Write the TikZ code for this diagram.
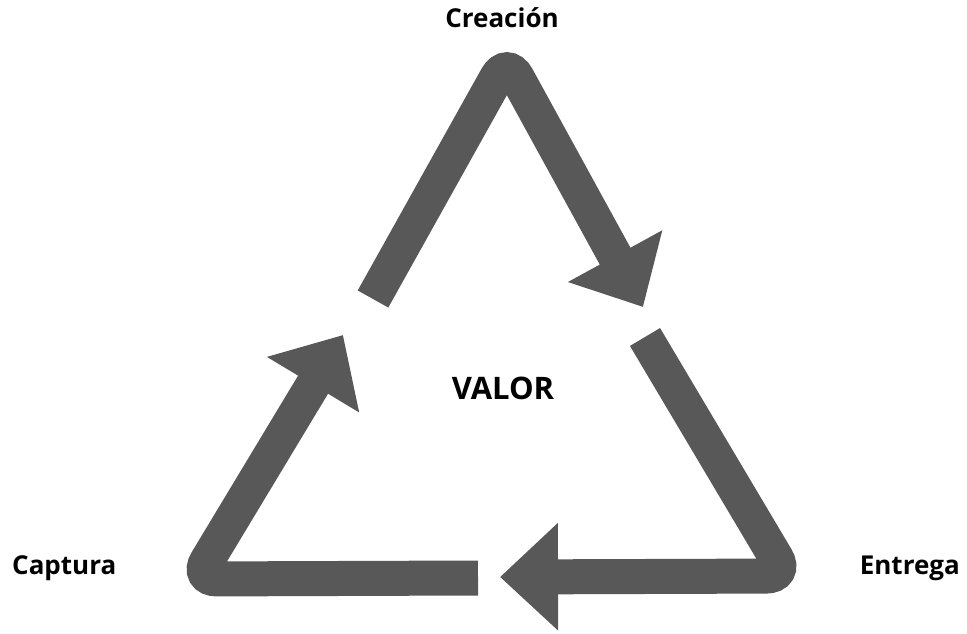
\documentclass[tikz,border=0pt]{standalone}
\usepackage{fontspec}
\setsansfont{Open Sans}
\usetikzlibrary{arrows.meta}
\definecolor{arrowgray}{RGB}{88,88,88}
\begin{document}
\begin{tikzpicture}[x=1pt,y=-1pt,
  flow/.style={draw=arrowgray,line width=35pt,rounded corners=21pt,line cap=butt,
    -{Triangle[length=58pt,width=104pt]}},
  lab/.style={font=\sffamily\bfseries\fontsize{26}{30}\selectfont,text=black,inner sep=0pt,anchor=base},
  big/.style={font=\sffamily\bfseries\fontsize{31}{36}\selectfont,text=black,inner sep=0pt,anchor=base}]
\useasboundingbox (0,0) rectangle (967,634);
\fill[white] (0,0) rectangle (967,634);
% coordinates
\coordinate (s1) at (373,299);
\coordinate (apex) at (507,59);
\coordinate (t1) at (643,307);
\coordinate (s2) at (645,337);
\coordinate (br) at (787,576);
\coordinate (t2) at (500,577);
\coordinate (s3) at (478,578);
\coordinate (bl) at (196,579);
\coordinate (t3) at (343,335);
% arrows
\draw[flow] (s1) -- (apex) -- (t1);
\draw[flow] (s2) -- (br) -- (t2);
\draw[flow] (s3) -- (bl) -- (t3);
% labels
\node[lab] (creacion) at (502,28) {Creación};
\node[big] (valor) at (503,399) {VALOR};
\node[lab,anchor=base west] (captura) at (12,574) {Captura};
\node[lab,anchor=base east] (entrega) at (960,574) {Entrega};
\end{tikzpicture}
\end{document}
